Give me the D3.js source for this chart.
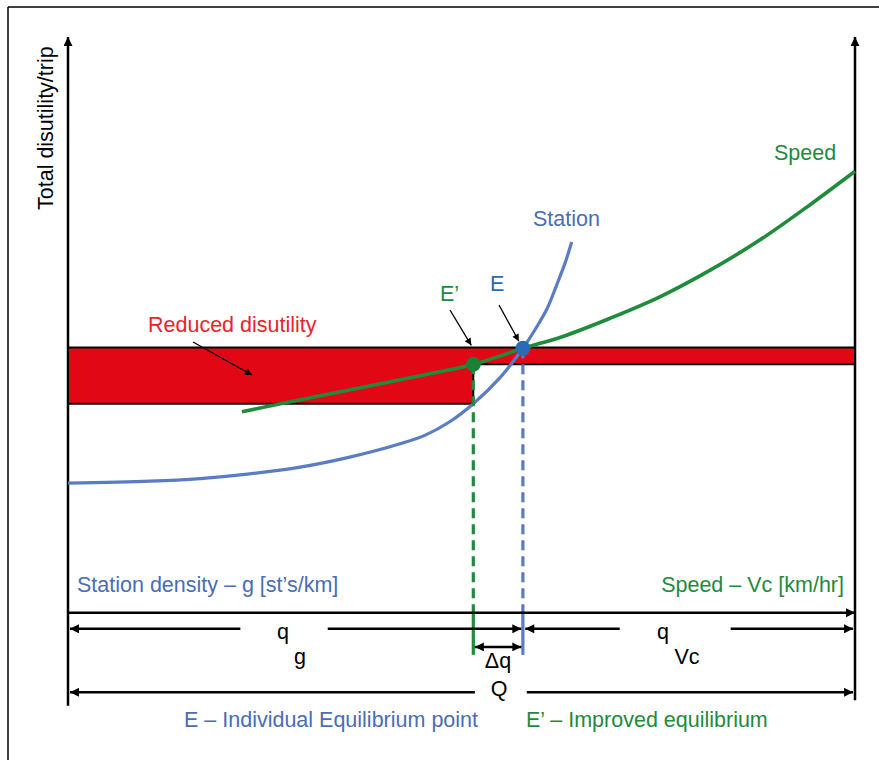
<!DOCTYPE html>
<html>
<head>
<meta charset="utf-8">
<script src="https://cdn.jsdelivr.net/npm/d3@7"></script>
<style>
  html, body { margin: 0; padding: 0; background: #fff; }
  svg { display: block; }
  text { font-family: "Liberation Sans", Arial, sans-serif; font-size: 21.5px; }
</style>
</head>
<body>
<svg id="chart" width="879" height="760"></svg>
<script>
// ---------------- DATA (diagram units: 0..100 on both axes) ----------------
// Station (density g) disutility curve
const stationCurve = [
  [0, 33.2], [10.4, 33.5], [16.8, 33.9], [23.1, 34.6], [29.5, 35.6], [35.8, 37.1],
  [42.2, 39.1], [45.4, 40.4], [48.5, 42.4], [51.5, 45.1], [54.9, 49.0], [57.8, 53.4],
  [59.3, 56.1], [60.9, 59.4], [62.1, 62.9], [63.2, 66.3], [64.0, 69.3]
];
// Speed (Vc) disutility curve
const speedCurve = [
  [22.1, 43.9], [29.5, 45.7], [42.2, 48.7], [51.5, 51.0], [57.8, 53.4], [62.7, 55.1],
  [68.9, 57.9], [75.2, 61.1], [81.6, 65.1], [87.9, 69.6], [94.3, 74.9], [100, 79.9]
];
// Equilibrium points
const pointE = [57.8, 53.4];
const pointEprime = [51.5, 51.0];
// Reduced disutility region levels
const reducedTop = 53.5;
const reducedStripBottom = 51.0;
const reducedLeftBottom = 45.1;
// Dimension rows (y levels) and gaps for labels
const axisRowY = 13.8;
const qRowY = 11.4;
const dqRowY = 8.7;
const QRowY = 1.9;
const qgGap = [21.9, 33.0];
const qvGap = [70.1, 84.2];
const QGap = [51.7, 58.3];
const dashSolidFrom = 13.9;
const dashEnd = 7.5;
// Texts
const yAxisTitle = "Total disutility/trip";
const curveNames = ["Station", "Speed"];
const pointNames = ["E", "E\u2019"];
const regionName = "Reduced disutility";
const axisNames = ["Station density \u2013 g [st\u2019s/km]", "Speed \u2013 Vc [km/hr]"];
const legendTexts = ["E \u2013 Individual Equilibrium point", "E\u2019 \u2013 Improved equilibrium"];
const dimTexts = ["q", "g", "q", "Vc", "\u0394q", "Q"];

// ---------------- STYLES ----------------
const BLUE = "#5a7cc4", BLUE_T = "#4a6db6", BLUE_DOT = "#2b6ab4";
const GREEN = "#1e8c3a", GREEN_T = "#1f8a3d", GREEN_DOT = "#1b8036";
const RED = "#e20714", RED_T = "#e8242c";

const svg = d3.select("#chart");
const x = d3.scaleLinear().domain([0, 100]).range([68, 855]);
const y = d3.scaleLinear().domain([0, 100]).range([705, 37]);

// markers
const defs = svg.append("defs");
function marker(id, w, h) {
  defs.append("marker").attr("id", id)
    .attr("viewBox", "0 0 10 10").attr("refX", 10).attr("refY", 5)
    .attr("markerUnits", "userSpaceOnUse")
    .attr("markerWidth", w).attr("markerHeight", h)
    .attr("orient", "auto-start-reverse")
    .append("path").attr("d", "M0,0L10,5L0,10z").attr("fill", "#000");
}
marker("arrBig", 11, 9);
marker("arrDim", 11, 9);
marker("arrSmall", 9, 7);

// frame
svg.append("line").attr("x1", 8).attr("y1", 7).attr("x2", 8).attr("y2", 760)
  .attr("stroke", "#000").attr("stroke-width", 1.5);
svg.append("line").attr("x1", 8).attr("y1", 7).attr("x2", 879).attr("y2", 7)
  .attr("stroke", "#000").attr("stroke-width", 1.5);

// axes
svg.append("line").attr("x1", x(0)).attr("x2", x(0)).attr("y1", y(-0.1)).attr("y2", y(100))
  .attr("stroke", "#000").attr("stroke-width", 2.5).attr("marker-end", "url(#arrBig)");
svg.append("line").attr("x1", x(100)).attr("x2", x(100)).attr("y1", y(0.7)).attr("y2", y(100))
  .attr("stroke", "#000").attr("stroke-width", 2.5).attr("marker-end", "url(#arrBig)");

// y axis title
svg.append("text").attr("transform", `translate(53,${y(100) + 173}) rotate(-90)`)
  .attr("fill", "#000").text(yAxisTitle);

// reduced disutility region
const region = [
  [0, reducedTop], [100, reducedTop], [100, reducedStripBottom],
  [pointEprime[0], reducedStripBottom], [pointEprime[0], reducedLeftBottom], [0, reducedLeftBottom]
];
svg.append("path")
  .attr("d", d3.line().x(d => x(d[0])).y(d => y(d[1]))(region) + "Z")
  .attr("fill", RED).attr("stroke", "#000").attr("stroke-width", 2);

// curves
const curveGen = d3.line().x(d => x(d[0])).y(d => y(d[1])).curve(d3.curveCatmullRom.alpha(0.5));
svg.append("path").attr("d", curveGen(stationCurve)).attr("fill", "none")
  .attr("stroke", BLUE).attr("stroke-width", 3.2);
svg.append("path").attr("d", curveGen(speedCurve)).attr("fill", "none")
  .attr("stroke", GREEN).attr("stroke-width", 3.6);

// dashed & solid verticals
[[pointEprime, GREEN], [pointE, BLUE]].forEach(([p, c]) => {
  svg.append("line").attr("x1", x(p[0])).attr("x2", x(p[0]))
    .attr("y1", y(p[1])).attr("y2", y(dashSolidFrom))
    .attr("stroke", c).attr("stroke-width", 3.2).attr("stroke-dasharray", "10,6");
  svg.append("line").attr("x1", x(p[0])).attr("x2", x(p[0]))
    .attr("y1", y(dashSolidFrom)).attr("y2", y(dashEnd))
    .attr("stroke", c).attr("stroke-width", 3.2);
});

// dimension lines
const dims = [
  { y: axisRowY, a: 0, b: 100, s: false, e: true },
  { y: qRowY, a: 0.25, b: qgGap[0], s: true, e: false },
  { y: qRowY, a: qgGap[1], b: 57.6, s: false, e: true },
  { y: qRowY, a: 58.1, b: qvGap[0], s: true, e: false },
  { y: qRowY, a: qvGap[1], b: 99.75, s: false, e: true },
  { y: dqRowY, a: 51.7, b: 57.6, s: true, e: true },
  { y: QRowY, a: 0.25, b: QGap[0], s: true, e: false },
  { y: QRowY, a: QGap[1], b: 99.75, s: false, e: true }
];
dims.forEach(d => {
  const l = svg.append("line").attr("x1", x(d.a)).attr("x2", x(d.b))
    .attr("y1", y(d.y)).attr("y2", y(d.y))
    .attr("stroke", "#000").attr("stroke-width", 2.5);
  if (d.s) l.attr("marker-start", "url(#arrDim)");
  if (d.e) l.attr("marker-end", "url(#arrDim)");
});

// dimension texts
const dimPos = [[283, 639], [300, 664], [663, 639], [687, 664], [498, 668], [499, 696]];
dimTexts.forEach((t, i) => {
  svg.append("text").attr("x", dimPos[i][0]).attr("y", dimPos[i][1])
    .attr("text-anchor", "middle").attr("fill", "#000").text(t);
});

// annotation arrows
function annot(x1, y1, x2, y2) {
  svg.append("line").attr("x1", x1).attr("y1", y1).attr("x2", x2).attr("y2", y2)
    .attr("stroke", "#000").attr("stroke-width", 1.3).attr("marker-end", "url(#arrSmall)");
}
annot(193, 342, 252, 375);
annot(450, 310, x(pointEprime[0]) - 2, y(pointEprime[1]) - 19);
annot(499, 305, x(pointE[0]) - 4, y(pointE[1]) - 7);

// equilibrium points
svg.append("circle").attr("cx", x(pointEprime[0])).attr("cy", y(pointEprime[1])).attr("r", 7.5)
  .attr("fill", GREEN_DOT);
svg.append("circle").attr("cx", x(pointE[0])).attr("cy", y(pointE[1])).attr("r", 7.5)
  .attr("fill", BLUE_DOT);

// labels
svg.append("text").attr("x", 533).attr("y", 226).attr("fill", BLUE_T).text(curveNames[0]);
svg.append("text").attr("x", 774).attr("y", 160).attr("fill", GREEN_T).text(curveNames[1]);
svg.append("text").attr("x", 490).attr("y", 291).attr("fill", BLUE_DOT).text(pointNames[0]);
svg.append("text").attr("x", 440).attr("y", 301).attr("fill", GREEN_T).text(pointNames[1]);
svg.append("text").attr("x", 148).attr("y", 332).attr("fill", RED_T).text(regionName);
svg.append("text").attr("x", 77).attr("y", 592).attr("fill", BLUE_T).text(axisNames[0]);
svg.append("text").attr("x", 844).attr("y", 592).attr("text-anchor", "end").attr("fill", GREEN_T).text(axisNames[1]);
svg.append("text").attr("x", 184).attr("y", 727).attr("fill", BLUE_T).text(legendTexts[0]);
svg.append("text").attr("x", 526).attr("y", 727).attr("fill", GREEN_T).text(legendTexts[1]);
</script>
</body>
</html>
